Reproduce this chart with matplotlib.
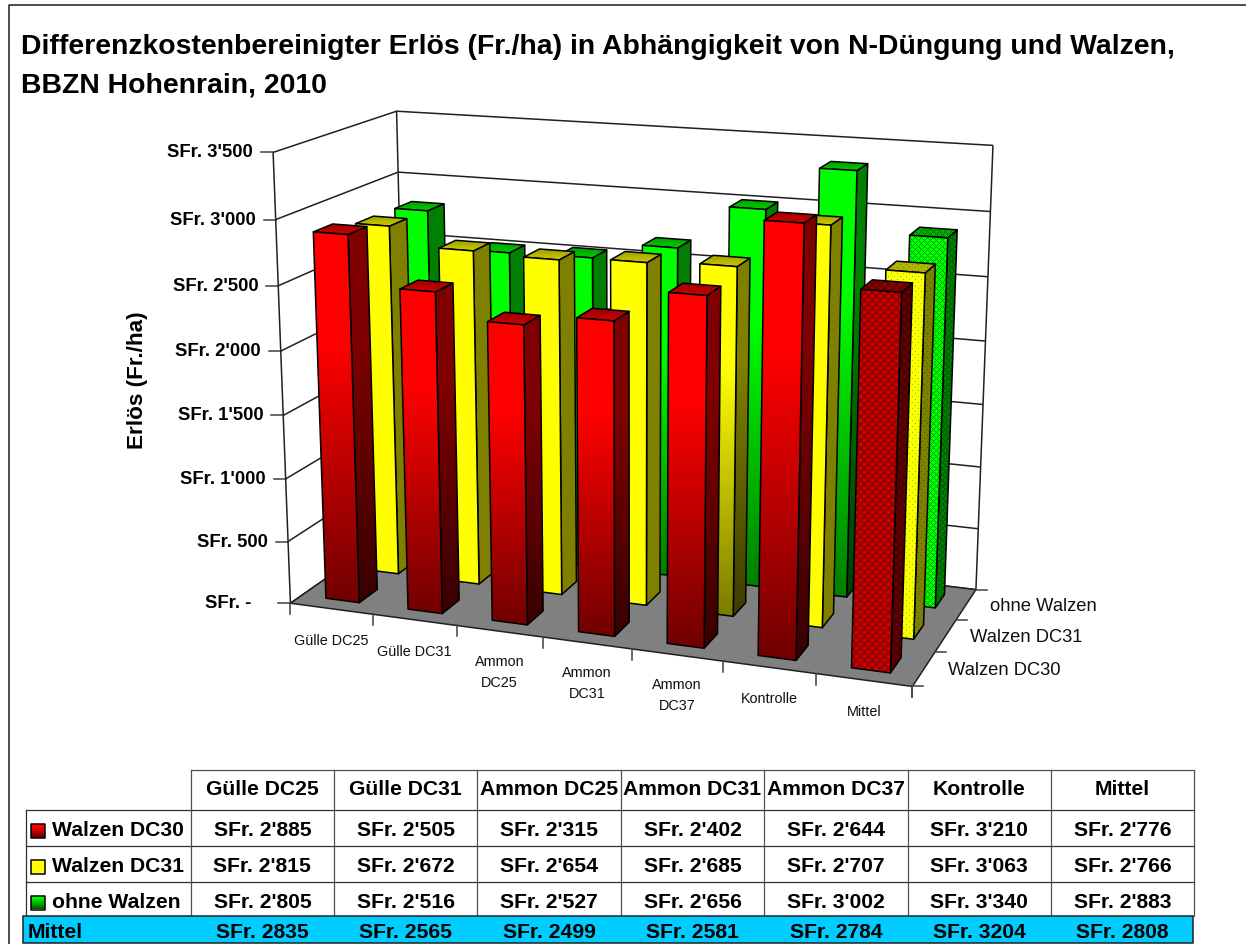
import numpy as np
import matplotlib
matplotlib.use('Agg')
import matplotlib.pyplot as plt
from matplotlib.patches import Polygon, Rectangle

plt.rcParams['font.family'] = ['Liberation Sans', 'DejaVu Sans']

# data
categories = ['Gülle DC25', 'Gülle DC31', 'Ammon DC25', 'Ammon DC31', 'Ammon DC37', 'Kontrolle', 'Mittel']
axis_categories = ['Gülle DC25', 'Gülle DC31', 'Ammon\nDC25', 'Ammon\nDC31', 'Ammon\nDC37', 'Kontrolle', 'Mittel']
series_names = ['Walzen DC30', 'Walzen DC31', 'ohne Walzen']
walzen_dc30 = [2885, 2505, 2315, 2402, 2644, 3210, 2776]
walzen_dc31 = [2815, 2672, 2654, 2685, 2707, 3063, 2766]
ohne_walzen = [2805, 2516, 2527, 2656, 3002, 3340, 2883]
mittel_row = [2835, 2565, 2499, 2581, 2784, 3204, 2808]
z_ticks = [0, 500, 1000, 1500, 2000, 2500, 3000, 3500]

title = 'Differenzkostenbereinigter Erlös (Fr./ha) in Abhängigkeit von N-Düngung und Walzen,\nBBZN Hohenrain, 2010'

# perspective of the 3d box: (category, row, value) -> pixel, fitted on the box corners
NX, NY, NZ = 7.0, 3.0, 3500.0
calib = [
    (0, 0, 0, 290, 602), (1, 0, 0, 372, 614), (2, 0, 0, 457, 626), (3, 0, 0, 544, 638),
    (4, 0, 0, 632, 650), (5, 0, 0, 722, 662), (6, 0, 0, 816, 673), (7, 0, 0, 912, 686),
    (7, 1, 0, 935, 652), (7, 2, 0, 957, 619), (7, 3, 0, 976, 589),
    (0, 0, 500, 288, 542), (0, 0, 1000, 286, 479), (0, 0, 1500, 284, 415), (0, 0, 2000, 281, 351),
    (0, 0, 2500, 278, 286), (0, 0, 3000, 276, 219), (0, 0, 3500, 273, 152),
    (0, 3, 3500, 396, 112), (0, 3, 3000, 398, 172),
    (7, 3, 3500, 993, 145), (7, 3, 3000, 990, 212), (7, 3, 2500, 989, 277), (7, 3, 2000, 985, 341),
]


def fit_camera(points):
    rows = []
    for x, y, z, u, v in points:
        w = [x / NX, y / NY, z / NZ, 1.0]
        rows.append(w + [0, 0, 0, 0] + [-u * a for a in w])
        rows.append([0, 0, 0, 0] + w + [-v * a for a in w])
    _, _, vt = np.linalg.svd(np.array(rows))
    return vt[-1].reshape(3, 4)


P = fit_camera(calib)


def proj(x, y, z):
    p = P @ np.array([x / NX, y / NY, z / NZ, 1.0])
    return p[:2] / p[2]


def shaded(color, top, bottom, knee=0.3, n=256):
    # vertical gradient: stays at "top" down to the knee, then goes to "bottom"
    t = np.linspace(0, 1, n)
    f = np.where(t < knee, top, top + (bottom - top) * (t - knee) / (1 - knee))
    return (f[:, None] * np.array(color))[:, None, :]


def pattern(poly, bg, fg, kind):
    x0, y0 = np.floor(poly.min(axis=0)).astype(int)
    x1, y1 = np.ceil(poly.max(axis=0)).astype(int)
    yy, xx = np.mgrid[y0:y1, x0:x1]
    if kind == 'dots':
        u, v = (xx + yy) % 8, (xx - yy) % 8
        mask = (np.minimum(u, 8 - u) + np.minimum(v, 8 - v)) < 3
    elif kind == 'fine':
        u, v = (xx + yy) % 6, (xx - yy) % 6
        mask = (np.minimum(u, 6 - u) + np.minimum(v, 6 - v)) < 2
    else:
        mask = ((xx + yy) % 6 == 0) | ((xx - yy) % 6 == 0)
    img = np.ones(xx.shape + (3,)) * np.array(bg)
    img[mask] = fg
    return img, (x0, x1, y1, y0)


def fill(ax, poly, img, extent=None, interp='bilinear', z=3):
    if extent is None:
        extent = (poly[:, 0].min(), poly[:, 0].max(), poly[:, 1].max(), poly[:, 1].min())
    im = ax.imshow(img, extent=extent, aspect='auto', interpolation=interp, zorder=z)
    clip = Polygon(poly, closed=True, transform=ax.transData)
    im.set_clip_path(clip)
    ax.add_patch(Polygon(poly, closed=True, fill=False, ec='black', lw=1.1, zorder=z, joinstyle='round'))


def draw_bar(ax, i, j, value, color, bottom, tex):
    xa, xb = i + 0.295, i + 0.705
    ya, yb = j + 0.275, j + 0.725
    front = np.array([proj(xa, ya, 0), proj(xb, ya, 0), proj(xb, ya, value), proj(xa, ya, value)])
    side = np.array([proj(xb, ya, 0), proj(xb, yb, 0), proj(xb, yb, value), proj(xb, ya, value)])
    cap = np.array([proj(xa, ya, value), proj(xb, ya, value), proj(xb, yb, value), proj(xa, yb, value)])
    c = np.array(color)
    if tex is None:
        fill(ax, side, shaded(c, 0.5, 0.5 * bottom))
        fill(ax, cap, shaded(c, 0.62, 0.8, knee=0.0))
        fill(ax, front, shaded(c, 1.0, bottom))
    else:
        bg, fg, kind = tex
        for poly, k in ((side, 0.5), (cap, 0.7), (front, 1.0)):
            img, ext = pattern(poly, np.array(bg) * k, np.array(fg) * k, kind)
            fill(ax, poly, img, ext, 'nearest')


fig = plt.figure(figsize=(12.46, 9.44), dpi=100)
ax = fig.add_axes([0, 0, 1, 1])
ax.set_axis_off()

# chart frame, open to the right and at the bottom
ax.plot([9, 9, 1246], [944, 4.5, 4.5], color='#303030', lw=1.2)

ax.text(21, 66.5, title, fontsize=20.4, fontweight='bold', va='center', ha='left', linespacing=1.64)

# walls and grid lines
line = dict(color='#202020', lw=1.1, solid_capstyle='butt', zorder=1)
for v in z_ticks:
    a, b, c = proj(0, 0, v), proj(0, NY, v), proj(NX, NY, v)
    ax.plot([a[0], b[0], c[0]], [a[1], b[1], c[1]], **line)
    ax.plot([a[0] - 12, a[0]], [a[1], a[1]], color='#404040', lw=1.1, zorder=1)
    label = "SFr. -" if v == 0 else "SFr. " + (f"{v:,}".replace(',', "'"))
    off = 39 if v == 0 else 20
    ax.text(a[0] - off, a[1] + 0.5, label, fontsize=13.3, fontweight='bold', ha='right', va='center')
for x, y in [(0, 0), (0, NY), (NX, NY)]:
    a, b = proj(x, y, 0), proj(x, y, NZ)
    ax.plot([a[0], b[0]], [a[1], b[1]], **line)

ax.text(138, 380, 'Erlös (Fr./ha)', fontsize=16.2, fontweight='bold', rotation=90, ha='center', va='center')

# floor
floor = np.array([proj(0, 0, 0), proj(NX, 0, 0), proj(NX, NY, 0), proj(0, NY, 0)])
ax.add_patch(Polygon(floor, closed=True, fc='#808080', ec='#202020', lw=1.1, zorder=2))

# category ticks and labels
for i in range(8):
    a = proj(i, 0, 0)
    ax.plot([a[0], a[0]], [a[1], a[1] + 11], color='#404040', lw=1.1, zorder=2)
for i, name in enumerate(axis_categories):
    a = proj(i + 0.5, 0, 0)
    dy = 41 if '\n' in name else 32
    ax.text(a[0], a[1] + dy, name, fontsize=10.4, ha='center', va='center', linespacing=1.64, color='#101010')

# row ticks and labels
for j in range(4):
    a = proj(NX, j, 0)
    ax.plot([a[0], a[0] + 11], [a[1], a[1]], color='#404040', lw=1.1, zorder=2)
for j, name in enumerate(series_names):
    a = proj(NX, j + 0.5, 0)
    ax.text(a[0] + 24, a[1] + 2, name, fontsize=13.2, ha='left', va='center', color='#101010')
a = proj(NX, 0, 0)
ax.plot([a[0], a[0]], [a[1], a[1] + 11], color='#404040', lw=1.1, zorder=2)

# bars, back row first
series_values = [walzen_dc30, walzen_dc31, ohne_walzen]
colors = [(1, 0, 0), (1, 1, 0), (0, 1, 0)]
bottom_shade = [[0.44] * 7, [1, 1, 1, 1, 0.48, 1, 1], [0.5] * 7]
textures = [((0.6, 0, 0), (0.85, 0, 0), 'dots'),
            ((1, 1, 0), (0.3, 0.9, 0), 'fine'),
            ((0, 1, 0), (0, 0.62, 0), 'grid')]
for j in (2, 1, 0):
    for i, value in enumerate(series_values[j]):
        tex = textures[j] if categories[i] == 'Mittel' else None
        draw_bar(ax, i, j, value, colors[j], bottom_shade[j][i], tex)

# data table
col_x = np.linspace(190.7, 1194.3, 8)
row_y = [769.5, 809.5, 846, 882, 915.5]
edge = dict(color='#505050', lw=0.9, zorder=5)
ax.plot([col_x[0], col_x[-1]], [row_y[0], row_y[0]], **edge)
for y in row_y[1:4]:
    ax.plot([26, col_x[-1]], [y, y], color='#303030', lw=0.9, zorder=5)
for x in col_x:
    ax.plot([x, x], [row_y[0], row_y[-1]], **edge)
ax.plot([26, 26], [row_y[1], row_y[-1]], color='#303030', lw=0.9, zorder=5)
ax.add_patch(Rectangle((23, 915.5), 1169.5, 27, fc='#00CCFF', ec='#202020', lw=1.1, zorder=6))

centers = (col_x[:-1] + col_x[1:]) / 2
table_font = dict(fontsize=15.2, fontweight='bold', va='center', zorder=7)
for i, name in enumerate(categories):
    ax.text(centers[i], 789.5, name, ha='center', **table_font)
for j, (name, y) in enumerate(zip(series_names, (831, 866.5, 902.5))):
    ax.text(52, y, name, ha='left', **table_font)
    key = np.array([[31, y - 7], [45, y - 7], [45, y + 7], [31, y + 7]], dtype=float)
    fill(ax, key, shaded(np.array(colors[j]), 1.0, 0.35 if j != 1 else 1.0, knee=0.2), z=6)
    for i, value in enumerate(series_values[j]):
        ax.text(centers[i], y - 0.5, "SFr. " + f"{value:,}".replace(',', "'"), ha='center', **table_font)
ax.text(28, 932, 'Mittel', ha='left', **table_font)
for i, value in enumerate(mittel_row):
    ax.text(centers[i], 932, f"SFr. {value}", ha='center', **table_font)

ax.set_xlim(0, 1246)
ax.set_ylim(944, 0)
fig.savefig('out.png', dpi=100)
